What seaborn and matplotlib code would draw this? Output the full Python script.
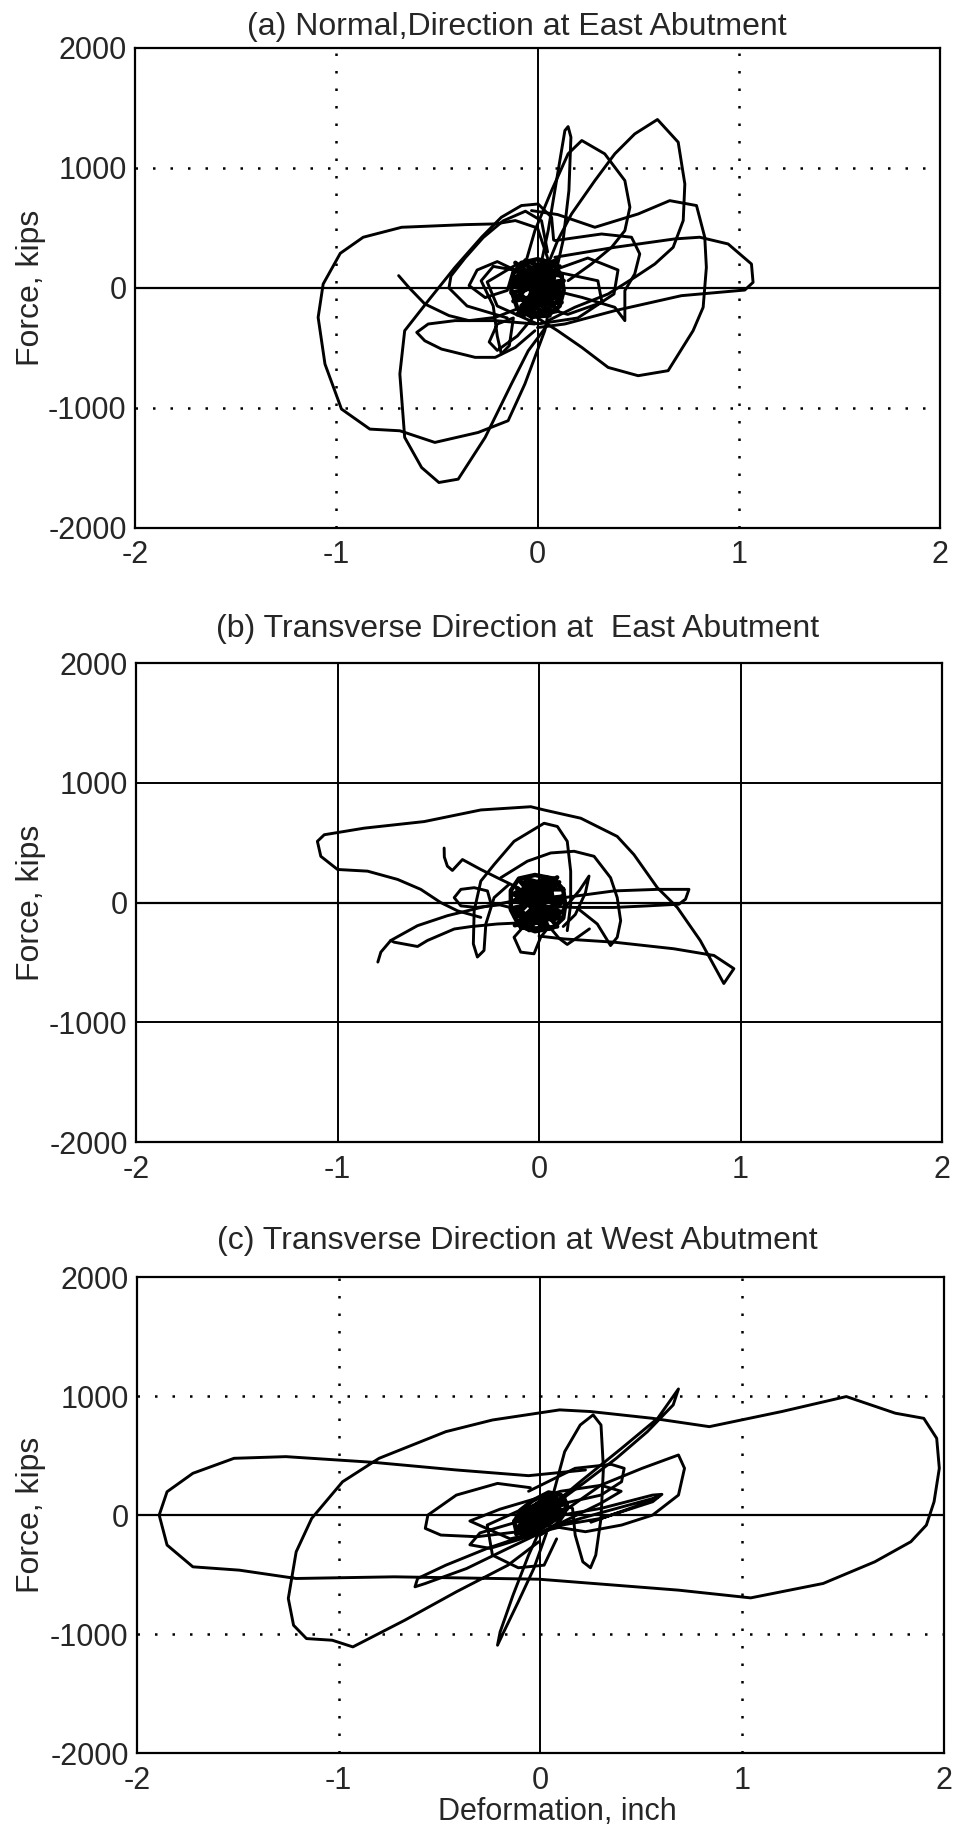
import numpy as np
import pandas as pd
import matplotlib
matplotlib.use("Agg")
import matplotlib.pyplot as plt
import seaborn as sns

# ---- panel (a): normal direction, east abutment (deformation in, force kips)
a_tail_x = [-0.69, -0.64, -0.56, -0.44, -0.34, -0.21, -0.08, 0.0]
a_tail_y = [103, 6, -133, -230, -272, -245, -161, -78]
a_left_x = [0.05, 0.0, -0.11, -0.21, -0.36, -0.675, -0.866, -0.98, -1.065, -1.09, -1.056, -0.974,
            -0.833, -0.684, -0.51, -0.295, -0.146, -0.063, 0.036, 0.06]
a_left_y = [250, 500, 562, 534, 528, 506, 423, 289, 33, -245, -634, -1009,
            -1176, -1190, -1287, -1204, -1106, -801, -356, -150]
a_bottom_x = [0.053, -0.046, -0.13, -0.26, -0.394, -0.49, -0.576, -0.66, -0.684, -0.66, -0.543,
              -0.41, -0.278, -0.18, -0.08, 0.003, 0.07, 0.08]
a_bottom_y = [-300, -523, -801, -1245, -1593, -1621, -1496, -1245, -717, -356, -106,
              172, 423, 589, 687, 700, 589, 400]
a_tall_x = [0.053, 0.10, 0.169, 0.285, 0.384, 0.483, 0.596, 0.699, 0.732, 0.724, 0.674, 0.583,
            0.483, 0.351, 0.185, 0.053]
a_tall_y = [200, 395, 617, 895, 1118, 1284, 1404, 1215, 867, 562, 339, 200,
            89, -50, -161, -272]
a_spike_x = [0.003, 0.053, 0.10, 0.136, 0.152, 0.166, 0.156, 0.127, 0.086, 0.06]
a_spike_y = [89, 478, 951, 1312, 1345, 1257, 812, 395, 89, -100]
a_mid_x = [-0.08, -0.013, 0.07, 0.152, 0.22, 0.334, 0.434, 0.459, 0.434, 0.368, 0.268, 0.152]
a_mid_y = [89, 478, 812, 1118, 1229, 1118, 895, 673, 478, 339, 200, 61]
a_right_x = [-0.03, 0.10, 0.285, 0.50, 0.657, 0.79, 0.831, 0.839, 0.823, 0.773, 0.649, 0.50,
             0.351, 0.22, 0.10, 0.0]
a_right_y = [645, 612, 506, 617, 728, 687, 423, 172, -161, -356, -689, -731,
             -662, -495, -356, -250]
a_far_x = [0.086, 0.384, 0.682, 0.806, 0.947, 1.063, 1.071, 1.03, 0.715, 0.384, 0.136, 0.0]
a_far_y = [256, 339, 409, 423, 367, 200, 47, -17, -64, -189, -300, -330]
a_low_x = [-0.013, -0.21, -0.41, -0.543, -0.60, -0.56, -0.477, -0.31, -0.21, -0.11, -0.013]
a_low_y = [-300, -272, -272, -300, -370, -440, -509, -578, -578, -495, -356]
a_up_x = [-0.15, -0.35, -0.44, -0.43, -0.36, -0.27, -0.17, -0.06, 0.02, 0.05]
a_up_y = [-250, -150, 0, 100, 250, 420, 560, 640, 560, 300]
a_small_x = [0.086, 0.318, 0.467, 0.508, 0.483, 0.434, 0.434, 0.384, 0.22, 0.08]
a_small_y = [395, 450, 423, 284, 117, -22, -272, -161, -78, -20]
a_cluster_x = [-0.05, -0.2, -0.3, -0.34, -0.26, -0.15, -0.12, -0.22, -0.28, -0.22, -0.2, -0.18,
               -0.14, -0.12, -0.2, -0.24, -0.2, -0.1, 0.0]
a_cluster_y = [100, 220, 150, 20, -80, -20, 150, 180, 60, -150, -400, -550,
               -480, -250, -300, -450, -520, -400, -200]
a_inner_x = [0.0, 0.25, 0.4, 0.38, 0.2, 0.0, -0.2, -0.25, -0.1, 0.05, 0.3, 0.32, 0.15, -0.05]
a_inner_y = [100, 250, 150, -50, -250, -300, -150, 50, 200, 150, 60, -120, -220, -120]
a_ring_x = [0.12, 0.08, 0.0, -0.08, -0.12, -0.13, -0.10, -0.03, 0.05, 0.11, 0.13, 0.12,
            0.07, 0.0, -0.07, -0.08, -0.02, 0.06, 0.08, 0.07]
a_ring_y = [100, 200, 240, 210, 120, -20, -170, -240, -230, -150, -20, 100,
            120, 160, 100, -60, -150, -120, 0, 120]
a_blob_x = [0.00, 0.11, -0.09, 0.12, -0.12, 0.05, -0.03, 0.10, -0.11, 0.02, 0.13, -0.13, 0.06,
            -0.06, 0.09, -0.08, 0.12, -0.10, 0.00, 0.08, -0.12, 0.11, -0.04, 0.04, -0.10, 0.10,
            -0.13, 0.12, -0.07, 0.03, 0.07, -0.09, 0.06, -0.05, 0.01, -0.02, 0.09, -0.11, 0.00]
a_blob_y = [0, 180, -200, -60, 80, 230, -240, -190, 210, 40, 60, -40, -230,
            230, 130, -150, -120, 140, -100, 220, -110, -20, 170, -200, -220, 240,
            20, 20, -230, 230, -150, 100, 100, -120, 150, -160, -60, 60, 0]

# ---- panel (b): transverse direction, east abutment
b_tail_x = [-0.80, -0.785, -0.736, -0.603, -0.455, -0.289, -0.124, 0.0]
b_tail_y = [-497, -414, -317, -193, -110, -41, 14, 30]
b_branch_x = [-0.736, -0.719, -0.603, -0.554, -0.421, -0.339, -0.207, -0.041, 0.05]
b_branch_y = [-317, -331, -367, -317, -221, -201, -179, -166, -120]
b_big_x = [-0.289, -0.405, -0.488, -0.587, -0.702, -0.851, -1.0, -1.083, -1.10, -1.066, -0.868,
           -0.57, -0.289, -0.041, 0.025, 0.207, 0.388, 0.471, 0.587, 0.686, 0.80, 0.917, 0.967,
           0.868, 0.669, 0.372, 0.124, 0.0]
b_big_y = [-124, -69, 0, 110, 193, 262, 276, 386, 511, 566, 621,
           676, 773, 800, 773, 704, 552, 400, 124, -41, -317, -676, -552,
           -442, -386, -331, -304, -280]
b_flat_x = [0.0, 0.124, 0.372, 0.587, 0.744, 0.727, 0.694, 0.537, 0.372, 0.174, 0.05]
b_flat_y = [20, 41, 97, 110, 110, 28, -14, -28, -41, -41, -30]
b_top_x = [0.14, 0.157, 0.157, 0.14, 0.091, 0.025, -0.124, -0.223, -0.289, -0.322, -0.326, -0.306,
           -0.273, -0.264, -0.223, -0.15]
b_top_y = [-235, -14, 262, 511, 635, 662, 511, 317, 179, -69, -345, -455,
           -400, -179, 41, 150]
b_mid_x = [-0.19, -0.058, 0.058, 0.174, 0.273, 0.355, 0.388, 0.405, 0.388, 0.355, 0.289, 0.2]
b_mid_y = [207, 345, 414, 428, 386, 207, 41, -152, -290, -359, -179, -60]
b_hook_x = [-0.471, -0.47, -0.455, -0.43, -0.38, -0.289, -0.207, -0.1]
b_hook_y = [455, 380, 304, 268, 359, 276, 207, 120]
b_ring_x = [-0.1, -0.24, -0.256, -0.322, -0.388, -0.421, -0.388, -0.31, -0.2]
b_ring_y = [-60, 0, 97, 124, 110, 41, -28, -41, -20]
b_under_x = [-0.05, -0.124, -0.091, -0.025, 0.008, 0.05, 0.1, 0.14, 0.2, 0.25]
b_under_y = [-150, -290, -414, -428, -290, -200, -300, -350, -280, -220]
b_peak_x = [0.1, 0.2, 0.248, 0.23, 0.18, 0.12]
b_peak_y = [-100, 100, 221, 80, -100, -200]
b_core_x = [0.12, 0.07, -0.02, -0.10, -0.14, -0.14, -0.10, -0.02, 0.07, 0.12, 0.13, 0.12,
            0.06, -0.02, -0.08, -0.09, -0.03, 0.05, 0.07, 0.06]
b_core_y = [110, 200, 230, 200, 100, -60, -190, -240, -210, -130, -20, 110,
            110, 150, 90, -70, -150, -120, 0, 110]
b_blob_x = [-0.01, 0.10, -0.12, 0.11, -0.13, 0.04, -0.05, 0.09, -0.10, 0.01, 0.12, -0.14, 0.05,
            -0.07, 0.08, -0.09, 0.11, -0.11, -0.01, 0.07, -0.12, 0.10, -0.05, 0.03, -0.09, 0.09,
            -0.13, 0.12, -0.06, 0.02, -0.01]
b_blob_y = [-10, 170, -190, -80, 70, 210, -230, -200, 190, 30, 50, -50, -220,
            200, 130, -160, -130, 120, -110, 200, -120, -30, 160, -220, -210, 210,
            10, 10, -220, 190, -10]

# ---- panel (c): transverse direction, west abutment
c_big_x = [0.223, -0.059, -0.417, -0.827, -1.262, -1.519, -1.723, -1.851, -1.89, -1.851, -1.723,
           -1.493, -1.211, -0.725, -0.008, 0.684, 1.042, 1.401, 1.657, 1.836, 1.913, 1.951,
           1.977, 1.964, 1.90, 1.759, 1.516, 1.196, 0.837, 0.556, 0.248, 0.095, -0.238,
           -0.469, -0.80, -0.981, -1.134, -1.211, -1.25, -1.224, -1.16, -1.032, -0.93,
           -0.673, -0.417, -0.161, -0.008]
c_big_y = [379, 331, 379, 443, 491, 477, 351, 196, 0, -252, -435,
           -463, -533, -519, -539, -631, -696, -575, -393, -224, -84, 112,
           393, 645, 813, 856, 996, 870, 743, 813, 870, 884, 799,
           701, 477, 280, -28, -309, -701, -926, -1038, -1052, -1108,
           -884, -645, -421, -224]
c_diag_x = [0.0, 0.197, 0.402, 0.581, 0.684, 0.658, 0.53, 0.376, 0.223, 0.044]
c_diag_y = [0, 280, 561, 813, 1060, 926, 701, 477, 280, 56]
c_tall_x = [0.044, 0.12, 0.197, 0.261, 0.30, 0.312, 0.30, 0.274, 0.248, 0.21, 0.172, 0.159, 0.1]
c_tall_y = [56, 533, 757, 842, 757, 393, -28, -337, -443, -393, -168, 56, 100]
c_drop_x = [0.018, -0.059, -0.136, -0.20, -0.213, -0.182, -0.11, -0.033, 0.03]
c_drop_y = [-50, -337, -673, -982, -1094, -982, -729, -449, -150]
c_right_x = [0.02, 0.30, 0.504, 0.684, 0.714, 0.684, 0.556, 0.402, 0.223, 0.02]
c_right_y = [-84, 252, 393, 505, 393, 168, 0, -84, -140, -84]
c_thin_x = [0.0, 0.30, 0.556, 0.602, 0.556, 0.30, 0.05, 0.3, 0.58, 0.5, 0.25]
c_thin_y = [-30, 56, 168, 174, 112, -28, -100, 20, 150, 90, -60]
c_upper_x = [-0.059, 0.172, 0.351, 0.415, 0.402, 0.30, 0.12]
c_upper_y = [200, 393, 426, 393, 280, 168, 100]
c_left_x = [-0.05, -0.213, -0.417, -0.558, -0.571, -0.494, -0.315, -0.11]
c_left_y = [230, 266, 168, 0, -112, -168, -182, -140]
c_low_x = [-0.02, -0.264, -0.469, -0.609, -0.622, -0.571, -0.366, -0.161, 0.0]
c_low_y = [-140, -280, -421, -533, -603, -575, -449, -280, -150]
c_inner_x = [-0.05, -0.264, -0.238, -0.11, 0.018, 0.08]
c_inner_y = [80, -84, -337, -443, -421, -200]
c_mid_x = [0.0, -0.3, -0.35, -0.25, 0.0, 0.3, 0.4, 0.3, 0.1, -0.2, -0.35, -0.15, 0.1]
c_mid_y = [0, -150, -250, -280, -150, 100, 200, 250, 200, 50, -50, -200, -100]
c_core_x = [0.13, 0.10, 0.04, -0.04, -0.10, -0.13, -0.12, -0.08, 0.0, 0.08, 0.12, 0.13,
            0.06, 0.02, -0.04, -0.07, -0.03, 0.04, 0.07, 0.06]
c_core_y = [100, 170, 190, 120, 40, -60, -130, -170, -160, -80, 20, 100,
            60, 100, 40, -50, -90, -30, 20, 60]
c_blob_x = [0.0, 0.12, -0.12, 0.13, -0.13, 0.03, -0.03, 0.09, -0.09, 0.06, -0.06, 0.11, -0.11,
            0.0, 0.12, -0.10, 0.05, -0.05, 0.10, -0.12, 0.02, -0.02, 0.08, -0.08, 0.0]
c_blob_y = [0, 160, -160, 50, -50, 150, -150, -20, 20, 170, -170, 100, -100,
            120, 130, -130, -60, 60, 40, -140, 80, -80, 160, -160, 0]

titles = ["(a) Normal,Direction at East Abutment",
          "(b) Transverse Direction at  East Abutment",
          "(c) Transverse Direction at West Abutment"]
x_ticks = [-2, -1, 0, 1, 2]
y_ticks = [-2000, -1000, 0, 1000, 2000]

# last two segments of each panel are the dense core near the origin
panels = [
    [(a_tail_x, a_tail_y), (a_left_x, a_left_y), (a_bottom_x, a_bottom_y), (a_tall_x, a_tall_y),
     (a_spike_x, a_spike_y), (a_mid_x, a_mid_y), (a_right_x, a_right_y), (a_far_x, a_far_y),
     (a_low_x, a_low_y), (a_up_x, a_up_y), (a_small_x, a_small_y), (a_cluster_x, a_cluster_y),
     (a_inner_x, a_inner_y), (a_ring_x, a_ring_y), (a_blob_x, a_blob_y)],
    [(b_tail_x, b_tail_y), (b_branch_x, b_branch_y), (b_big_x, b_big_y), (b_flat_x, b_flat_y),
     (b_top_x, b_top_y), (b_mid_x, b_mid_y), (b_hook_x, b_hook_y), (b_ring_x, b_ring_y),
     (b_under_x, b_under_y), (b_peak_x, b_peak_y), (b_core_x, b_core_y), (b_blob_x, b_blob_y)],
    [(c_big_x, c_big_y), (c_diag_x, c_diag_y), (c_tall_x, c_tall_y), (c_drop_x, c_drop_y),
     (c_right_x, c_right_y), (c_thin_x, c_thin_y), (c_upper_x, c_upper_y), (c_left_x, c_left_y),
     (c_low_x, c_low_y), (c_inner_x, c_inner_y), (c_mid_x, c_mid_y), (c_core_x, c_core_y),
     (c_blob_x, c_blob_y)],
]

sns.set_theme(style="white")
plt.rcParams["font.family"] = ["Liberation Sans", "DejaVu Sans"]

fig = plt.figure(figsize=(9.56, 18.32), dpi=100)
boxes = [[0.1412, 0.7118, 0.8421, 0.2620],
         [0.1423, 0.3766, 0.8431, 0.2615],
         [0.1433, 0.0431, 0.8441, 0.2598]]
title_y = [0.9853, 0.6567, 0.3226]
dotted = [True, False, True]

for i, box in enumerate(boxes):
    ax = fig.add_axes(box)
    # grid first so the curves sit on top
    if dotted[i]:
        for v in [-1, 1]:
            ax.axvline(v, color="black", lw=1.8, ls=(0, (1, 6)), zorder=1)
        for v in [-1000, 1000]:
            ax.axhline(v, color="black", lw=1.8, ls=(0, (1, 6)), zorder=1)
    else:
        for v in [-1, 1]:
            ax.axvline(v, color="black", lw=1.4, zorder=1)
        for v in [-1000, 1000]:
            ax.axhline(v, color="black", lw=1.4, zorder=1)
    ax.axvline(0, color="black", lw=1.4, zorder=1)
    ax.axhline(0, color="black", lw=1.6, zorder=1)

    n = len(panels[i])
    for k, (xs, ys) in enumerate(panels[i]):
        seg = pd.DataFrame({"x": xs, "y": ys})
        lw = 3.2 if k >= n - 2 else 2.1
        sns.lineplot(data=seg, x="x", y="y", sort=False, estimator=None,
                     color="black", lw=lw, ax=ax, zorder=3)

    ax.set_xlim(-2, 2)
    ax.set_ylim(-2000, 2000)
    ax.set_xticks(x_ticks)
    ax.set_yticks(y_ticks)
    ax.set_xticklabels([str(t) for t in x_ticks])
    ax.set_yticklabels([str(t) for t in y_ticks])
    ax.tick_params(axis="x", direction="in", length=5, width=1, pad=9, labelsize=22)
    ax.tick_params(axis="y", direction="in", length=5, width=1, pad=6, labelsize=22)
    ax.set_xlabel("")
    ax.set_ylabel("")
    for s in ax.spines.values():
        s.set_color("black")
        s.set_linewidth(1.6)

    fig.text(0.541, title_y[i], titles[i], ha="center", va="center", fontsize=23)
    fig.text(0.032, box[1] + box[3] / 2, "Force, kips", rotation=90,
             ha="center", va="center", fontsize=23)

fig.text(0.583, 0.011, "Deformation, inch", ha="center", va="center", fontsize=22)

fig.savefig("out.png", dpi=100)
